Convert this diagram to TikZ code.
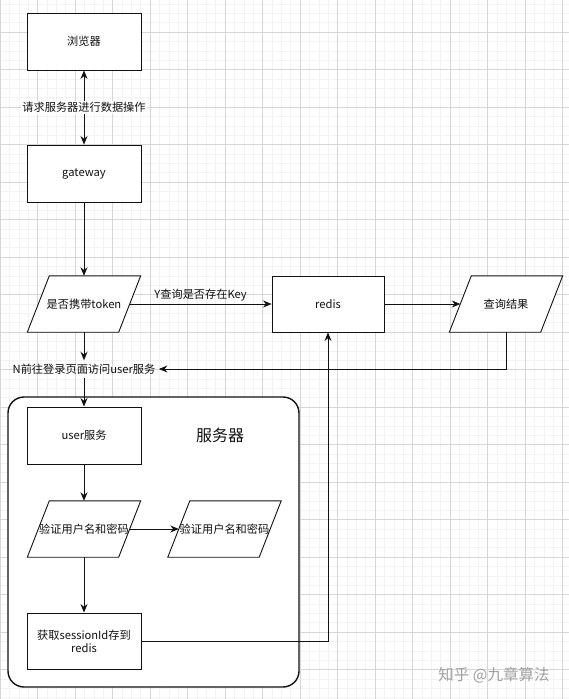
\documentclass[tikz,border=0pt]{standalone}
\usepackage{fontspec}
\setmainfont{Noto Sans CJK SC}
\usetikzlibrary{arrows.meta}
\definecolor{flowink}{HTML}{111111}
\definecolor{gridminor}{HTML}{F3F3F3}
\definecolor{gridmajor}{HTML}{D6D6D6}
\definecolor{markgray}{HTML}{A0A0A0}
\pgfdeclarelayer{gridlayer}
\pgfdeclarelayer{shapelayer}
\pgfsetlayers{gridlayer,shapelayer,main}

\tikzset{
  procbox/.style={draw=flowink, line width=0.9pt, fill=white, minimum width=114pt, minimum height=57pt, inner sep=2pt, align=center},
  iobox/.style={rectangle, minimum width=91pt, minimum height=56pt, inner xsep=0pt, inner ysep=2pt},
  ioshape/.style={draw=flowink, line width=0.9pt, fill=white, line join=miter},
  flow/.style={-{Stealth[length=8.5pt,width=7pt]}, line width=0.9pt, draw=flowink},
  lbl/.style={fill=white, inner sep=1pt}
}

\begin{document}
\begin{tikzpicture}[x=1pt, y=-1pt, every node/.style={font=\fontsize{11.2}{13}\selectfont, text=flowink}]

  \useasboundingbox (0,0) rectangle (569,699);

  \begin{pgfonlayer}{gridlayer}
    \fill[white] (0,0) rectangle (569,699);
    % grid
    \foreach \k in {0,...,61} \draw[gridminor, line width=0.5pt] ({\k*9.375},0) -- ({\k*9.375},699);
    \foreach \k in {0,...,75} \draw[gridminor, line width=0.5pt] (0,{-5.5+\k*9.375}) -- (569,{-5.5+\k*9.375});
    \foreach \k in {0,...,15} \draw[gridmajor, line width=0.6pt] ({\k*37.5},0) -- ({\k*37.5},699);
    \foreach \k in {0,...,19} \draw[gridmajor, line width=0.6pt] (0,{-5.5+\k*37.5}) -- (569,{-5.5+\k*37.5});
    % server group
    \node[draw=flowink, line width=1.4pt, fill=white, rounded corners=16pt, minimum width=291pt, minimum height=290pt] (server) at (153.5,542) {};
  \end{pgfonlayer}
  \node[font=\fontsize{16}{18}\selectfont] (servertitle) at (220,435) {服务器};

  \node[procbox] (browser) at (84,41.5) {浏览器};
  \node[procbox] (gateway) at (84,173.5) {gateway};
  \node[iobox] (token) at (84,304) {是否携带token};
  \node[procbox, minimum width=112pt, minimum height=56pt] (redis) at (328,304) {redis};
  \node[iobox] (result) at (506,304) {查询结果};
  \node (nlabel) at (84,369) {N前往登录页面访问user服务};

  \node[procbox] (user) at (84,435.5) {user服务};
  \node[iobox] (verify) at (84,529) {验证用户名和密码};
  \node[iobox] (verifyb) at (224.5,529) {验证用户名和密码};
  \node[procbox, minimum height=56pt] (fetch) at (84,641) {获取sessionId存到\\redis};

  % parallelograms behind their texts
  \begin{pgfonlayer}{shapelayer}
    \foreach \n in {token,result,verify,verifyb}
      \draw[ioshape] ([xshift=11pt]\n.north west) -- ([xshift=11pt]\n.north east)
        -- ([xshift=-11pt]\n.south east) -- ([xshift=-11pt]\n.south west) -- cycle;
  \end{pgfonlayer}

  \draw[flow, {Stealth[length=8.5pt,width=7pt]}-{Stealth[length=8.5pt,width=7pt]}] (browser) -- node[lbl] (reqlabel) {请求服务器进行数据操作} (gateway);
  \draw[flow] (gateway) -- (token);
  \draw[flow] (token) -- node[above, inner sep=2pt] (ylabel) {Y查询是否存在Key} (redis);
  \draw[flow] (redis) -- (result);
  \draw[flow] (result.south) |- (nlabel.east);
  \draw[flow] (token) -- (nlabel);
  \draw[flow] (nlabel) -- (user);
  \draw[flow] (user) -- (verify);
  \draw[flow] (verify) -- (verifyb);
  \draw[flow] (verify) -- (fetch);
  \draw[flow] (fetch.east) -| (redis.south);

  \node[text=markgray, font=\fontsize{15.5}{17}\selectfont] (zhihu) at (494,675) {知乎 @九章算法};

\end{tikzpicture}
\end{document}
